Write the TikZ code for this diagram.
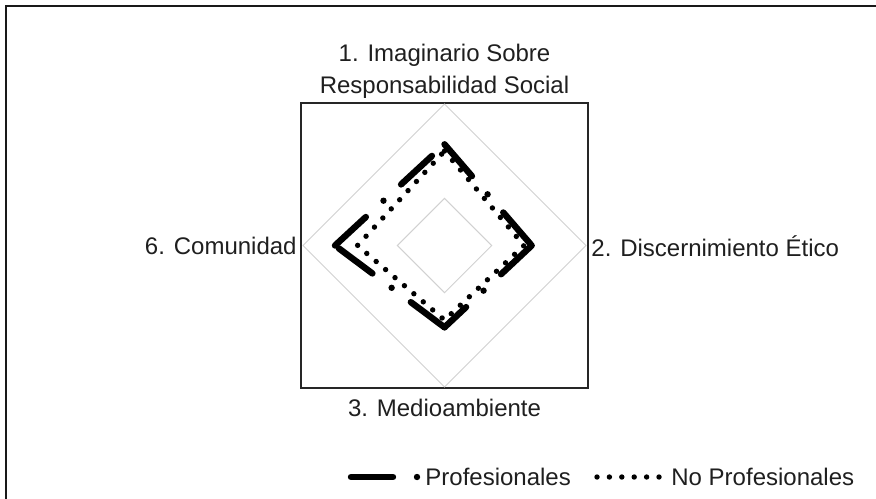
\documentclass[tikz,border=0pt]{standalone}
\usepackage{fontspec}
\setmainfont{Liberation Sans}
\usepackage{tikz}

\tikzset{
	gridline/.style={draw=black!18, line width=0.5pt},
	profline/.style={line width=3.2pt, line cap=round, dash pattern=on 21pt off 12pt on 0pt off 12pt},
	noprofline/.style={line width=2.7pt, line cap=round, dash pattern=on 0pt off 6.2pt},
	axislabel/.style={inner sep=0pt, text=black!88, align=center}
}

\begin{document}
\begin{tikzpicture}[x=0.5pt, y=-0.5pt, font=\fontsize{12}{14}\selectfont]
					\useasboundingbox (0,0) rectangle (876,498);
					\clip (0,0) rectangle (876,498);
					\draw[line width=1pt, black!90] (6,6) rectangle (900,520);
					\draw[line width=0.8pt, black!85] (301,103) rectangle (588,388);
					% grid
					\draw[gridline] (444.5,104)--(586,245.5)--(444.5,387)--(303,245.5)--cycle;
					\draw[gridline] (444.5,198.3)--(491.7,245.5)--(444.5,292.7)--(397.3,245.5)--cycle;
					% series
					\coordinate (p1) at (444.5,144.3);
					\coordinate (p2) at (531.7,245.5);
					\coordinate (p3) at (444.5,327.3);
					\coordinate (p4) at (335,245.5);
					\coordinate (n1) at (444.5,151);
					\coordinate (n2) at (524,245.5);
					\coordinate (n3) at (444.5,320);
					\coordinate (n4) at (357.5,245.5);
					\draw[profline] (p4) -- (p1);
					\draw[profline] (p1) -- (p2);
					\draw[profline] (p2) -- (p3);
					\draw[profline] (p3) -- (p4);
					\draw[noprofline] (n1) -- (n2) -- (n3) -- (n4) -- cycle;
					% axis labels
					\node[axislabel] (imag) at (444.5,71){1. Imaginario Sobre\\[2pt]Responsabilidad Social};
					\node[axislabel, anchor=west] (disc) at (591,246){2. Discernimiento Ético};
					\node[axislabel] (medio) at (444.5,408){3. Medioambiente};
					\node[axislabel, anchor=east] (comu) at (297,246){6. Comunidad};
					% legend
					\coordinate (lp0) at (351,477);
					\coordinate (lp1) at (420,477);
					\coordinate (ln0) at (597,477);
					\coordinate (ln1) at (663,477);
					\draw[profline] (lp0) -- (lp1);
					\node[axislabel, anchor=west] (prof) at (425,477){Profesionales};
					\draw[noprofline] (ln0) -- (ln1);
					\node[axislabel, anchor=west] (noprof) at (671,477){No Profesionales};
				\end{tikzpicture}
\end{document}
